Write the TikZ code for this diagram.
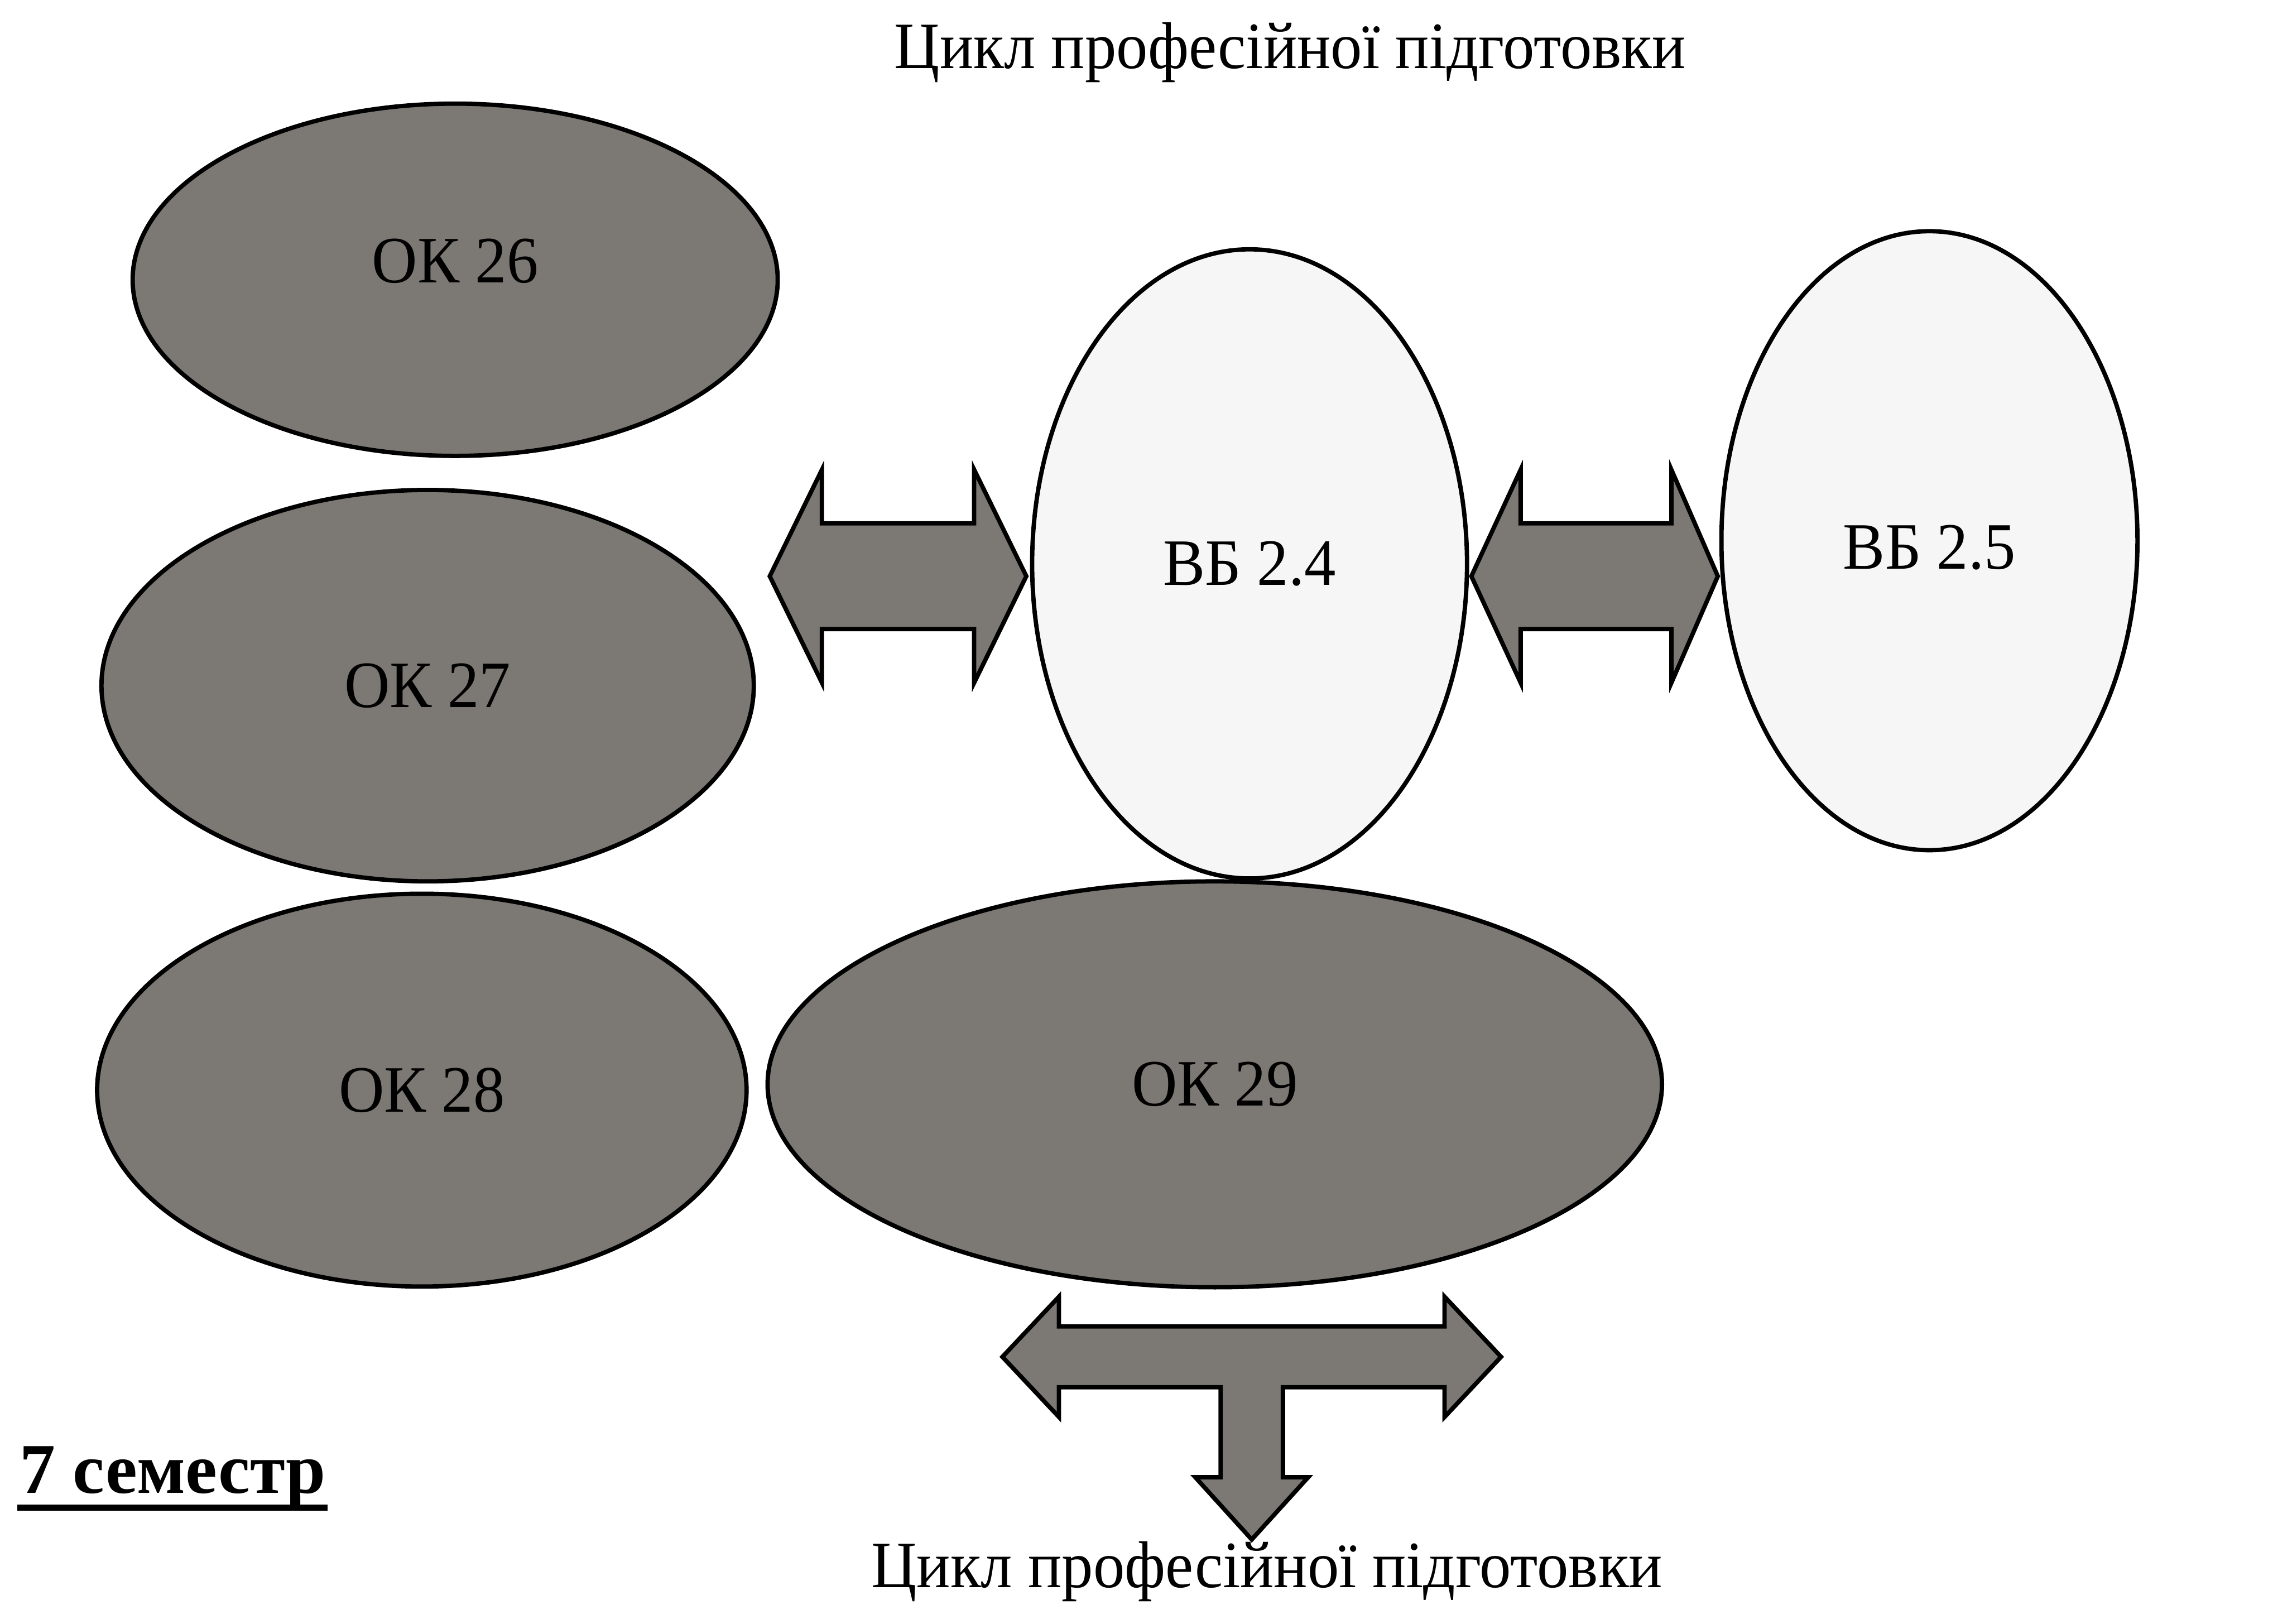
\documentclass[tikz,border=0pt]{standalone}
\usepackage{fontspec}
\setmainfont{Liberation Serif}[FakeStretch=0.95]
\newfontfamily\semfont{Liberation Serif}
\usetikzlibrary{shapes.geometric}
\definecolor{darkfill}{RGB}{124,120,115}
\definecolor{lightfill}{RGB}{246,246,246}
\begin{document}
\begin{tikzpicture}[x=0.1mm,y=-0.1mm,line width=0.85pt,
		font=\fontsize{13}{15}\selectfont,
		okellipse/.style={draw,ellipse,fill=darkfill,inner sep=0pt},
		vbellipse/.style={draw,ellipse,fill=lightfill,inner sep=0pt},
		fatarrow/.style={draw,fill=darkfill,line join=miter}]
		\useasboundingbox [fill=white] (0,0) rectangle (1568,1120);

		\node (cycletop) [anchor=base] at (890,47) {Цикл професійної підготовки};

		\node (ok26) [okellipse,minimum width=44.5mm,minimum height=24.3mm,text depth=2.6mm] at (314,193) {ОК 26};
		\node (ok27) [okellipse,minimum width=45mm,minimum height=27mm] at (295,473) {ОК 27};
		\node (ok28) [okellipse,minimum width=44.8mm,minimum height=27.1mm] at (291,752) {ОК 28};
		\node (ok29) [okellipse,minimum width=61.7mm,minimum height=28mm] at (838,748) {ОК 29};
		\node (vb24) [vbellipse,minimum width=30mm,minimum height=43.4mm] at (862,389) {ВБ 2.4};
		\node (vb25) [vbellipse,minimum width=28.7mm,minimum height=42.7mm,text height=4mm] at (1331,373) {ВБ 2.5};

		% block arrows
		\coordinate (arrL) at (619.5,397.5);
		\coordinate (arrR) at (1100,397.5);
		\coordinate (arrT) at (863.5,936);
		\draw [fatarrow,shift={(arrL)}] (-88.5,0) -- (-52.5,-73.5) -- (-52.5,-36.5) -- (52.5,-36.5) -- (52.5,-73.5)
			-- (88.5,0) -- (52.5,73.5) -- (52.5,36.5) -- (-52.5,36.5) -- (-52.5,73.5) -- cycle;
		\draw [fatarrow,shift={(arrR)}] (-85,0) -- (-51,-73.5) -- (-51,-36.5) -- (53,-36.5) -- (53,-73.5)
			-- (85,0) -- (53,73.5) -- (53,36.5) -- (-51,36.5) -- (-51,73.5) -- cycle;
		\draw [fatarrow,shift={(arrT)}] (-172,0) -- (-133,-41.5) -- (-133,-21) -- (133,-21) -- (133,-41.5)
			-- (172,0) -- (133,41.5) -- (133,21) -- (21.5,21) -- (21.5,83) -- (39,83) -- (0,126)
			-- (-39,83) -- (-21.5,83) -- (-21.5,21) -- (-133,21) -- (-133,41.5) -- cycle;

		\node (sem) [anchor=base west,inner sep=0pt,font=\semfont\fontsize{14}{16}\selectfont\bfseries] at (12,1030) {7 семестр};
		\draw [line width=1.2pt] ([yshift=-1mm]sem.base west) -- ([yshift=-1mm]sem.base east);

		\node (cyclebot) [anchor=base] at (874,1095) {Цикл професійної підготовки};
	\end{tikzpicture}
\end{document}
